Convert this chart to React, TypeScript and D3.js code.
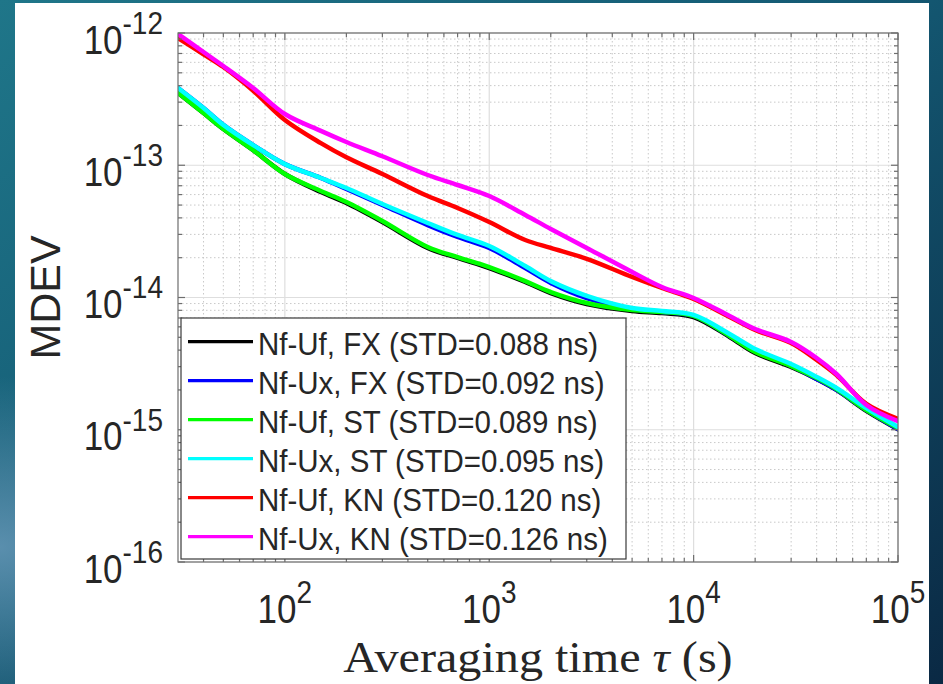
import React from "react";
import * as d3 from "d3";

// Averaging time tau (s)
const tau = [30, 40, 50, 70, 100, 150, 200, 300, 500, 700, 1000, 1500, 2000, 3000, 5000, 7000, 10000, 15000, 20000, 30000, 40000, 50000, 70000, 100000];

// MDEV values per series
const nfUfFX = [3.52e-13, 2.48e-13, 1.88e-13, 1.30e-13, 8.59e-14, 6.28e-14, 5.18e-14, 3.72e-14, 2.37e-14, 1.99e-14, 1.67e-14, 1.31e-14, 1.08e-14, 8.93e-15, 7.91e-15, 7.63e-15, 7.12e-15, 5.03e-15, 3.80e-15, 2.98e-15, 2.42e-15, 2.00e-15, 1.39e-15, 1.01e-15];
const nfUxFX = [3.84e-13, 2.71e-13, 2.02e-13, 1.42e-13, 1.02e-13, 8.01e-14, 6.61e-14, 5.01e-14, 3.53e-14, 2.87e-14, 2.37e-14, 1.67e-14, 1.29e-14, 9.91e-15, 8.19e-15, 7.77e-15, 7.25e-15, 5.12e-15, 3.94e-15, 3.03e-15, 2.42e-15, 2.00e-15, 1.41e-15, 1.01e-15];
const nfUfST = [3.52e-13, 2.48e-13, 1.88e-13, 1.30e-13, 8.59e-14, 6.39e-14, 5.27e-14, 3.79e-14, 2.41e-14, 2.02e-14, 1.70e-14, 1.33e-14, 1.10e-14, 9.09e-15, 8.04e-15, 7.77e-15, 7.25e-15, 5.12e-15, 3.87e-15, 3.03e-15, 2.46e-15, 2.03e-15, 1.41e-15, 1.03e-15];
const nfUxST = [3.84e-13, 2.71e-13, 2.02e-13, 1.42e-13, 1.02e-13, 8.01e-14, 6.73e-14, 5.09e-14, 3.66e-14, 2.97e-14, 2.45e-14, 1.73e-14, 1.33e-14, 1.03e-14, 8.33e-15, 7.91e-15, 7.38e-15, 5.30e-15, 4.08e-15, 3.14e-15, 2.51e-15, 2.07e-15, 1.46e-15, 1.05e-15];
const nfUfKN = [9.17e-13, 6.90e-13, 5.53e-13, 3.66e-13, 2.20e-13, 1.47e-13, 1.15e-13, 8.59e-14, 5.85e-14, 4.75e-14, 3.72e-14, 2.72e-14, 2.37e-14, 1.96e-14, 1.43e-14, 1.18e-14, 9.74e-15, 7.12e-15, 5.68e-15, 4.53e-15, 3.37e-15, 2.59e-15, 1.57e-15, 1.21e-15];
const nfUxKN = [9.83e-13, 7.18e-13, 5.63e-13, 3.84e-13, 2.44e-13, 1.82e-13, 1.50e-13, 1.17e-13, 8.44e-14, 7.09e-14, 5.85e-14, 4.21e-14, 3.30e-14, 2.37e-14, 1.56e-14, 1.20e-14, 9.91e-15, 7.25e-15, 5.78e-15, 4.61e-15, 3.49e-15, 2.64e-15, 1.54e-15, 1.16e-15];

const seriesLabels = [
  "Nf-Uf, FX (STD=0.088 ns)",
  "Nf-Ux, FX (STD=0.092 ns)",
  "Nf-Uf, ST (STD=0.089 ns)",
  "Nf-Ux, ST (STD=0.095 ns)",
  "Nf-Uf, KN (STD=0.120 ns)",
  "Nf-Ux, KN (STD=0.126 ns)",
];
const seriesValues = [nfUfFX, nfUxFX, nfUfST, nfUxST, nfUfKN, nfUxKN];
const seriesColors = ["#000000", "#0000ff", "#00ff00", "#00ffff", "#ff0000", "#ff00ff"];

const xTicks = [100, 1000, 10000, 100000];
const xTickExps = ["2", "3", "4", "5"];
const yTicks = [1e-12, 1e-13, 1e-14, 1e-15, 1e-16];
const yTickExps = ["-12", "-13", "-14", "-15", "-16"];

const W = 943;
const H = 684;
const L = 178, R = 898, T = 33, B = 562;

const FONT = "'Liberation Sans', Arial, Helvetica, sans-serif";
const TXT = "#262626";

export default function App() {
  const x = d3.scaleLog().domain([30, 1e5]).range([L, R]);
  const y = d3.scaleLog().domain([1e-16, 1e-12]).range([B, T]);

  const xMinor: number[] = [];
  for (let e = 1; e <= 4; e++) for (let m = 2; m <= 9; m++) {
    const v = m * Math.pow(10, e);
    if (v > 30 && v < 1e5) xMinor.push(v);
  }
  const yMinor: number[] = [];
  for (let e = -16; e <= -13; e++) for (let m = 2; m <= 9; m++) yMinor.push(m * Math.pow(10, e));

  const line = d3
    .line<[number, number]>()
    .x((d) => x(d[0]))
    .y((d) => y(d[1]))
    .curve(d3.curveCatmullRom.alpha(0.5));

  const boxColor = "#6e6e6e";

  const legX = 181, legY = 318, legW = 445, legH = 241;
  const rowY0 = 341.7, rowStep = 39;

  return (
    <svg width={W} height={H} style={{ position: "absolute", left: 0, top: 0, display: "block" }}>
      <defs>
        <linearGradient id="bg" x1="0" y1="0" x2="1" y2="1">
          <stop offset="0" stopColor="#1f7689" />
          <stop offset="0.45" stopColor="#145a74" />
          <stop offset="1" stopColor="#0a2944" />
        </linearGradient>
        <radialGradient id="glow" cx="0" cy="0.8" r="0.25">
          <stop offset="0" stopColor="#6b9bbb" stopOpacity="0.8" />
          <stop offset="1" stopColor="#6b9bbb" stopOpacity="0" />
        </radialGradient>
        <clipPath id="plotclip">
          <rect x={L} y={T} width={R - L} height={B - T} />
        </clipPath>
      </defs>
      <rect x={0} y={0} width={W} height={H} fill="url(#bg)" />
      <rect x={0} y={0} width={W} height={H} fill="url(#glow)" />
      <rect x={15} y={3} width={914} height={H - 3} fill="#ffffff" />

      {/* minor grid */}
      <g stroke="#c9c9c9" strokeWidth={1} strokeDasharray="1.5,2.5">
        {xMinor.map((v) => (
          <line key={"xm" + v} x1={x(v)} x2={x(v)} y1={T} y2={B} />
        ))}
        {yMinor.map((v) => (
          <line key={"ym" + v} x1={L} x2={R} y1={y(v)} y2={y(v)} />
        ))}
      </g>
      {/* major grid */}
      <g stroke="#dedede" strokeWidth={1.2}>
        {xTicks.map((v) => (
          <line key={"xg" + v} x1={x(v)} x2={x(v)} y1={T} y2={B} />
        ))}
        {yTicks.map((v) => (
          <line key={"yg" + v} x1={L} x2={R} y1={y(v)} y2={y(v)} />
        ))}
      </g>

      {/* series */}
      <g clipPath="url(#plotclip)" fill="none" strokeLinejoin="round" strokeLinecap="round">
        {seriesValues.map((vals, i) => (
          <path
            key={"s" + i}
            d={line(tau.map((t, j) => [t, vals[j]] as [number, number])) || ""}
            stroke={seriesColors[i]}
            strokeWidth={4.5}
          />
        ))}
      </g>

      {/* box and ticks */}
      <g stroke={boxColor} strokeWidth={1.2} fill="none">
        <rect x={L} y={T} width={R - L} height={B - T} />
        {xTicks.map((v) => (
          <g key={"xt" + v}>
            <line x1={x(v)} x2={x(v)} y1={B} y2={B - 7} />
            <line x1={x(v)} x2={x(v)} y1={T} y2={T + 7} />
          </g>
        ))}
        {xMinor.map((v) => (
          <g key={"xmt" + v}>
            <line x1={x(v)} x2={x(v)} y1={B} y2={B - 4} />
            <line x1={x(v)} x2={x(v)} y1={T} y2={T + 4} />
          </g>
        ))}
        {yTicks.map((v) => (
          <g key={"yt" + v}>
            <line x1={L} x2={L + 7} y1={y(v)} y2={y(v)} />
            <line x1={R} x2={R - 7} y1={y(v)} y2={y(v)} />
          </g>
        ))}
        {yMinor.map((v) => (
          <g key={"ymt" + v}>
            <line x1={L} x2={L + 4} y1={y(v)} y2={y(v)} />
            <line x1={R} x2={R - 4} y1={y(v)} y2={y(v)} />
          </g>
        ))}
      </g>

      {/* legend */}
      <rect x={legX} y={legY} width={legW} height={legH} fill="#ffffff" stroke="#3a3a3a" strokeWidth={1.2} />
      {seriesLabels.map((lab, i) => {
        const ry = rowY0 + i * rowStep;
        return (
          <g key={"lg" + i}>
            <line x1={188} x2={253} y1={ry} y2={ry} stroke={seriesColors[i]} strokeWidth={3.2} />
            <g transform={`translate(258, ${ry + 13}) scale(1,1.08)`}>
              <text x={0} y={0} fontFamily={FONT} fontSize={29.5} fill={TXT}>
                {lab}
              </text>
            </g>
          </g>
        );
      })}

      {/* y tick labels */}
      {yTicks.map((v, i) => (
        <g key={"yl" + v} transform={`translate(163, ${y(v) + 20.5}) scale(1,1.15)`}>
          <text textAnchor="end" fontFamily={FONT} fontSize={35} fill={TXT}>
            10
            <tspan dy={-17} fontSize={28}>
              {yTickExps[i]}
            </tspan>
          </text>
        </g>
      ))}

      {/* x tick labels */}
      {xTicks.map((v, i) => (
        <g key={"xl" + v} transform={`translate(${x(v)}, 623) scale(1,1.15)`}>
          <text textAnchor="middle" fontFamily={FONT} fontSize={35} fill={TXT}>
            10
            <tspan dy={-17} fontSize={28}>
              {xTickExps[i]}
            </tspan>
          </text>
        </g>
      ))}

      {/* axis titles */}
      <text
        transform={`translate(60, ${(T + B) / 2}) rotate(-90)`}
        textAnchor="middle"
        fontFamily={FONT}
        fontSize={43}
        fill={TXT}
      >
        MDEV
      </text>
      <g transform={`translate(${(L + R) / 2}, 672) scale(1.07,1)`}>
        <text
          x={0}
          y={0}
          textAnchor="middle"
          fontFamily="'Liberation Serif', 'Times New Roman', serif"
          fontSize={45}
          fill={TXT}
        >
          Averaging time <tspan fontStyle="italic">τ</tspan> (s)
        </text>
      </g>
    </svg>
  );
}
